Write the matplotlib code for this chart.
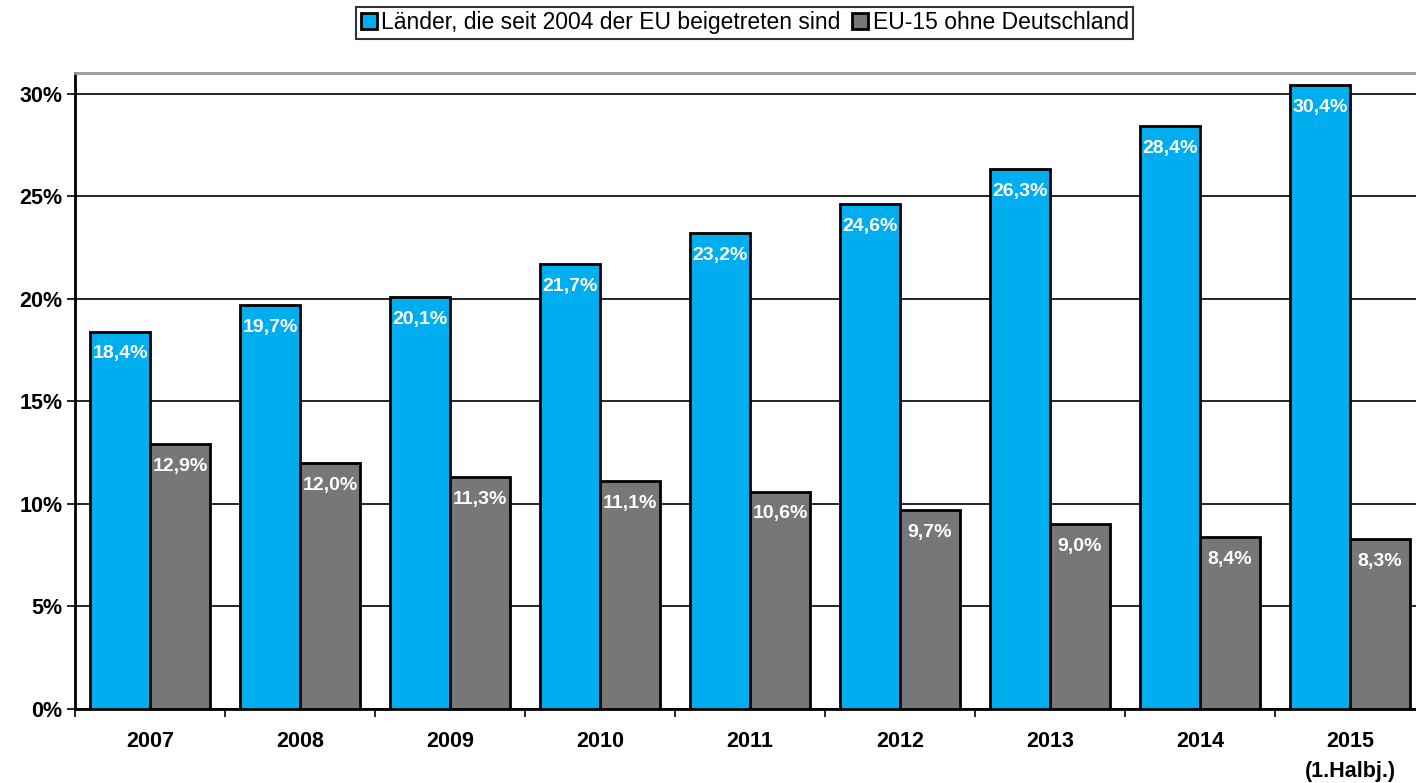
import numpy as np
import matplotlib.pyplot as plt
from matplotlib.ticker import FuncFormatter

plt.rcParams['font.family'] = ['Liberation Sans', 'DejaVu Sans']

years = ['2007', '2008', '2009', '2010', '2011', '2012', '2013', '2014', '2015\n(1.Halbj.)']
new_members = [18.4, 19.7, 20.1, 21.7, 23.2, 24.6, 26.3, 28.4, 30.4]
eu15 = [12.9, 12.0, 11.3, 11.1, 10.6, 9.7, 9.0, 8.4, 8.3]
series_names = ['Länder, die seit 2004 der EU beigetreten sind', 'EU-15 ohne Deutschland']
colors = ['#00aeef', '#777777']

fig = plt.figure(figsize=(14.16, 7.83), dpi=100)
ax = fig.add_axes([75 / 1416, 74 / 783, 1350 / 1416, 636 / 783])

x = np.arange(len(years))
w = 0.4
b1 = ax.bar(x - w / 2, new_members, w, color=colors[0], edgecolor='black', linewidth=2,
            label=series_names[0], zorder=3)
b2 = ax.bar(x + w / 2, eu15, w, color=colors[1], edgecolor='black', linewidth=2,
            label=series_names[1], zorder=3)

for bars, vals in ((b1, new_members), (b2, eu15)):
    for rect, v in zip(bars, vals):
        ax.annotate(f'{v:.1f}%'.replace('.', ','),
                    (rect.get_x() + rect.get_width() / 2, v),
                    xytext=(0, -10), textcoords='offset points',
                    ha='center', va='top', color='white', fontsize=14,
                    fontweight='bold', zorder=4)

ax.set_xlim(-0.5, len(years) - 0.5)
ax.set_ylim(0, 31)
ax.set_yticks(np.arange(0, 31, 5))
ax.yaxis.set_major_formatter(FuncFormatter(lambda v, p: f'{v:.0f}%'))
ax.grid(axis='y', color='black', linewidth=1.2, zorder=0)

ax.set_xticks(x)
ax.set_xticklabels(years, linespacing=1.55)
ax.set_xticks(np.arange(-0.5, len(years)), minor=True)
ax.tick_params(axis='x', which='major', length=0, pad=16, labelsize=15.5)
ax.tick_params(axis='x', which='minor', length=6, width=1.2, direction='out')
ax.tick_params(axis='y', length=6, width=1.2, labelsize=15.5, pad=3)
for lab in ax.get_xticklabels() + ax.get_yticklabels():
    lab.set_fontweight('bold')

ax.spines['left'].set_linewidth(2)
ax.spines['bottom'].set_linewidth(2)
ax.spines['top'].set_color('#999999')
ax.spines['top'].set_linewidth(2)
ax.spines['right'].set_visible(False)

leg = fig.legend(loc='center', bbox_to_anchor=(0.526, 0.971), ncol=2, fontsize=16.5,
                 frameon=True, fancybox=False, edgecolor='black', handlelength=0.7,
                 handleheight=0.7, handletextpad=0.2, columnspacing=0.5,
                 borderpad=0.2, borderaxespad=0)
leg.get_frame().set_linewidth(1.5)

fig.savefig('out.png', dpi=100)
